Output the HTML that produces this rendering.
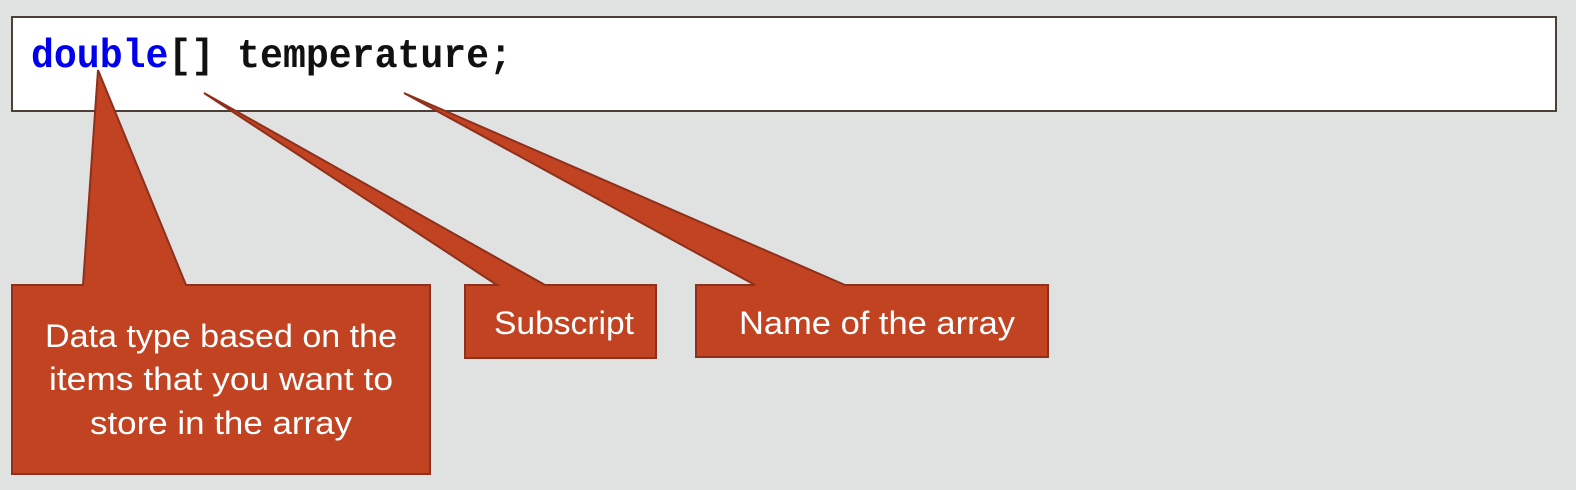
<!DOCTYPE html>
<html><head><style>html,body{margin:0;padding:0;background:#e0e2e1;}svg{display:block}</style></head>
<body>
<svg width="1576" height="490" viewBox="0 0 1576 490" xmlns="http://www.w3.org/2000/svg">
<rect x="0" y="0" width="1576" height="490" fill="#e0e2e1"/>
<rect x="12" y="17" width="1544" height="94" fill="#fff" stroke="#4d4038" stroke-width="2"/>
<text x="31" y="67" font-family="Liberation Mono, monospace" font-weight="bold" font-size="41" textLength="481" lengthAdjust="spacingAndGlyphs"><tspan fill="#0000ee">double</tspan><tspan fill="#111">[] temperature;</tspan></text>
<g fill="#c14322" stroke="#8e301b" stroke-width="2" stroke-linejoin="miter">
<path d="M12,285 H83 L98,70 L186,285 H430 V474 H12 Z"/>
<path d="M465,285 H497 L204,93 L545,285 H656 V358 H465 Z"/>
<path d="M696,285 H755 L404,93 L845,285 H1048 V357 H696 Z"/>
</g>
<g fill="#fff" font-family="Liberation Sans, sans-serif" font-size="32" text-anchor="middle">
<text x="221" y="347" textLength="352" lengthAdjust="spacingAndGlyphs">Data type based on the</text>
<text x="221" y="390" textLength="344" lengthAdjust="spacingAndGlyphs">items that you want to</text>
<text x="221" y="434" textLength="262" lengthAdjust="spacingAndGlyphs">store in the array</text>
<text x="564" y="334" textLength="140" lengthAdjust="spacingAndGlyphs">Subscript</text>
<text x="877" y="334" textLength="276" lengthAdjust="spacingAndGlyphs">Name of the array</text>
</g>
</svg>
</body></html>
